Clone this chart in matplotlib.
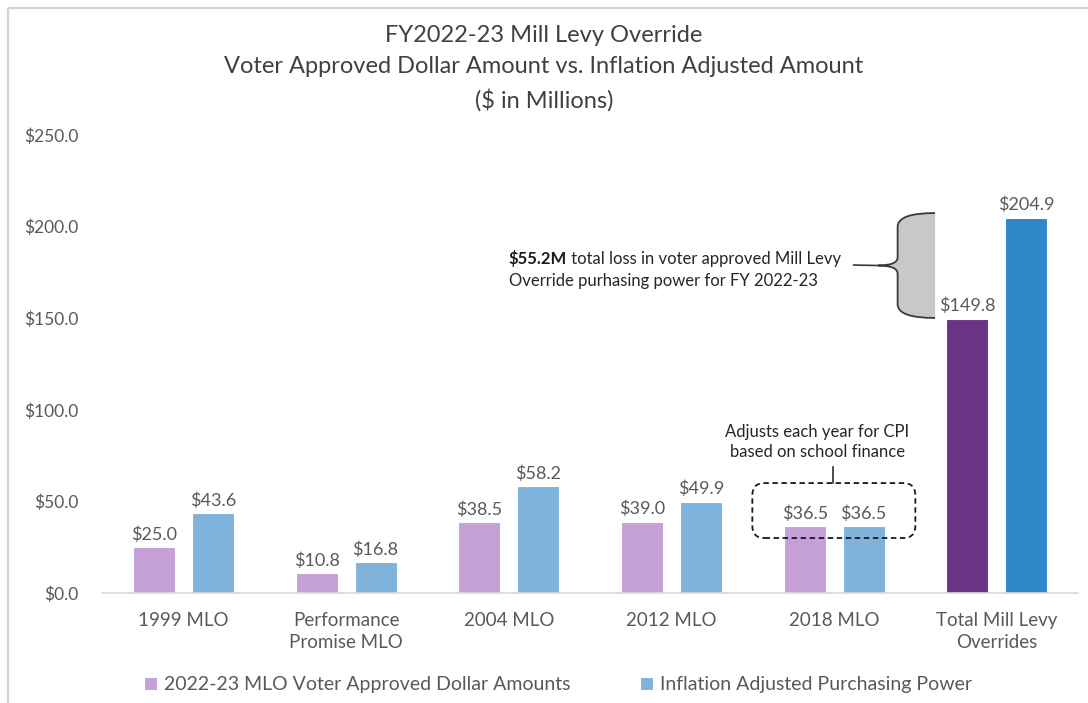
import matplotlib.pyplot as plt
import matplotlib.transforms as mtransforms
from matplotlib.path import Path
from matplotlib.patches import PathPatch, FancyBboxPatch, Rectangle
import numpy as np

plt.rcParams['font.family'] = ['Lato', 'DejaVu Sans']

categories = ['1999 MLO', 'Performance\nPromise MLO', '2004 MLO', '2012 MLO',
              '2018 MLO', 'Total Mill Levy\nOverrides']
voter_approved = [25.0, 10.8, 38.5, 39.0, 36.5, 149.8]
inflation_adj = [43.6, 16.8, 58.2, 49.9, 36.5, 204.9]
yticks = [0, 50, 100, 150, 200, 250]

light_purple = '#C5A0D8'
light_blue = '#7FB3DC'
dark_purple = '#6A3484'
dark_blue = '#2F86C9'
text_col = '#595959'

fig = plt.figure(figsize=(10.88, 7.03), dpi=100)
ax = fig.add_axes([0.0938, 0.1565, 0.8972, 0.6515])

# outer frame like the pasted chart border
px = mtransforms.Affine2D().scale(1 / 1088, -1 / 703).translate(0, 1) + fig.transFigure
fig.patches.append(Rectangle((8, 8), 1100, 720, transform=px, fill=False,
                             edgecolor='#D4D4D4', linewidth=1.6))

x = np.arange(len(categories))
w = 0.258
off = 0.181
c1 = [light_purple] * 5 + [dark_purple]
c2 = [light_blue] * 5 + [dark_blue]
b1 = ax.bar(x - off, voter_approved, w, color=c1, edgecolor='white', linewidth=0.8,
            label='2022-23 MLO Voter Approved Dollar Amounts')
b2 = ax.bar(x + off, inflation_adj, w, color=c2, edgecolor='white', linewidth=0.8,
            label='Inflation Adjusted Purchasing Power')

for bars, vals in ((b1, voter_approved), (b2, inflation_adj)):
    for b, v in zip(bars, vals):
        ax.annotate(f'${v:.1f}', (b.get_x() + b.get_width() / 2, v),
                    xytext=(0, 3), textcoords='offset points', ha='center',
                    va='bottom', fontsize=13, color=text_col)

ax.set_xlim(-0.5, 5.5)
ax.set_ylim(0, 250)
ax.set_yticks(yticks)
ax.set_yticklabels([f'${t:.1f}' for t in yticks])
ax.set_xticks(x)
ax.set_xticklabels(categories, fontsize=13.5, color=text_col, linespacing=1.3)
ax.tick_params(axis='y', length=0, pad=17, labelsize=12.5, labelcolor=text_col)
ax.tick_params(axis='x', length=0, pad=14)
for s in ['top', 'right', 'left']:
    ax.spines[s].set_visible(False)
ax.spines['bottom'].set_color('#D9D9D9')
ax.spines['bottom'].set_linewidth(1.2)

fig.text(0.5, 0.903, 'FY2022-23 Mill Levy Override\nVoter Approved Dollar Amount vs. Inflation Adjusted Amount\n($ in Millions)',
         ha='center', va='center', fontsize=17, color='#404040', linespacing=1.6)

# brace showing the gap between the two totals
top, bot = 207.4, voter_approved[-1] + 0.3
mid = (top + bot) / 2
xr, xi, xt = 4.62, 4.39, 4.27
verts = [(xr, top), (xi, top), (xi, top - 7.5),
         (xi, mid + 4.5), (xi, mid), (xt, mid),
         (xi, mid), (xi, mid - 4.5),
         (xi, bot + 7.5), (xi, bot), (xr, bot)]
codes = [Path.MOVETO, Path.CURVE3, Path.CURVE3,
         Path.LINETO, Path.CURVE3, Path.CURVE3,
         Path.CURVE3, Path.CURVE3,
         Path.LINETO, Path.CURVE3, Path.CURVE3]
ax.add_patch(PathPatch(Path(verts + [(xr, top)], codes + [Path.LINETO]),
                       facecolor='#C8C8C8', edgecolor='none', clip_on=False))
ax.add_patch(PathPatch(Path(verts, codes), facecolor='none', edgecolor='#3A3A3A',
                       linewidth=1.3, clip_on=False))
ax.plot([4.12, xt], [179.0, mid], color='#3A3A3A', linewidth=1.2, clip_on=False)

t1 = ax.text(2.0, 179.3, '$55.2M', fontsize=12, fontweight='bold', color='#1A1A1A',
             va='baseline')
ax.annotate(' total loss in voter approved Mill Levy', xy=(1, 0), xycoords=t1,
            va='bottom', fontsize=12, color='#262626')
ax.text(2.0, 167.8, 'Override purhasing power for FY 2022-23', fontsize=12,
        color='#262626', va='baseline')

# dashed box around the 2018 pair
box = FancyBboxPatch((3.497, 30.0), 1.002, 30.0,
                     boxstyle='round,pad=0,rounding_size=0.075',
                     mutation_aspect=88.8, facecolor='none', edgecolor='#1A1A1A',
                     linestyle=(0, (3, 2)), linewidth=1.3)
ax.add_patch(box)
ax.plot([3.995, 3.995], [60.0, 69.0], color='#1A1A1A', linewidth=1.1)
ax.text(3.896, 72.5, 'Adjusts each year for CPI\nbased on school finance', ha='center',
        va='bottom', fontsize=12, color='#262626', linespacing=1.3)

leg = fig.legend(handles=[b1[0], b2[0]], labels=[b1.get_label(), b2.get_label()],
                 loc='center', bbox_to_anchor=(0.513, 0.026), ncol=2, frameon=False,
                 fontsize=14, handlelength=0.65, handleheight=0.65, handletextpad=0.35,
                 columnspacing=3.6, labelcolor=text_col)

fig.savefig('out.png', dpi=100)
